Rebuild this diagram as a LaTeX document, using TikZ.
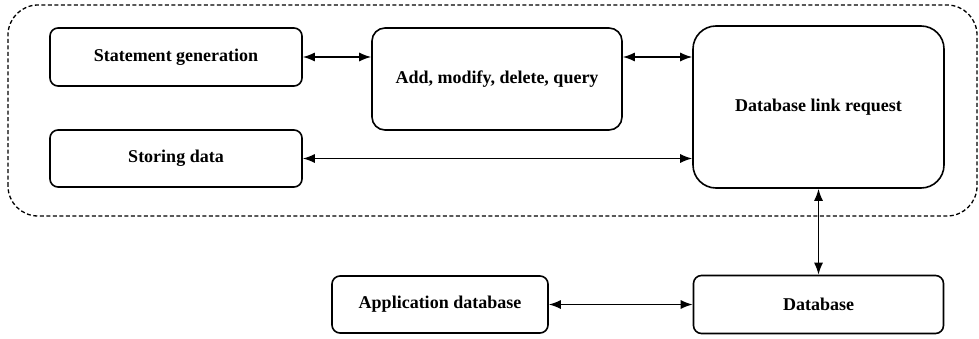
\documentclass[tikz,border=0pt]{standalone}
\usepackage{fontspec}
\setmainfont{Liberation Serif}
\usetikzlibrary{arrows.meta}

\begin{document}
\begin{tikzpicture}[x=1pt,y=1pt]

\tikzset{block/.style = {shape=rectangle,draw,line width=1.6pt,rounded corners=8pt,
  font=\fontsize{18}{20}\selectfont\bfseries,inner sep=0pt}}
\tikzset{edge/.style = {{Latex[length=12pt,width=9pt]}-{Latex[length=12pt,width=9pt]},line width=1.4pt}}
\useasboundingbox (0,0) rectangle (979,338);
%container
\draw[line width=1.3pt,dash pattern=on 4pt off 2.5pt,rounded corners=30pt] (8,122) rectangle (977,333);
%blocks
\node[block, minimum width=252pt, minimum height=58pt] (gen) at (176,281) {Statement generation};
\node[block, minimum width=250pt, minimum height=102pt, rounded corners=13pt] (ops) at (497,259) {Add, modify, delete, query};
\node[block, minimum width=251pt, minimum height=162pt, rounded corners=23pt] (link) at (818.5,231) {Database link request};
\node[block, minimum width=252pt, minimum height=57pt] (store) at (176,179.5) {Storing data};
\node[block, minimum width=216pt, minimum height=57pt] (app) at (440,33.5) {Application database};
\node[block, minimum width=250pt, minimum height=58pt] (db) at (818.5,33.5) {Database};
%arrows
\draw[edge] (gen.east) -- (ops.west |- gen.east);
\draw[edge] (ops.east |- gen.east) -- (link.west |- gen.east);
\draw[edge] (store.east) -- (link.west |- store.east);
\draw[edge] (link.south) -- (db.north);
\draw[edge] (app.east) -- (db.west);

\end{tikzpicture}
\end{document}
